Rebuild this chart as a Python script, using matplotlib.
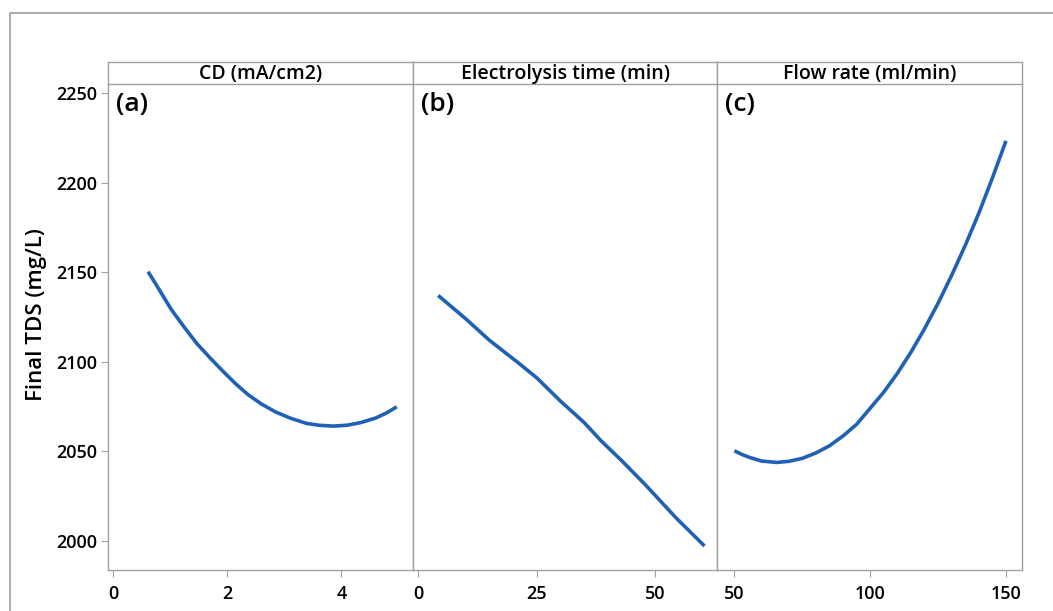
import matplotlib
matplotlib.use("Agg")
import matplotlib.pyplot as plt
from matplotlib.lines import Line2D

plt.rcParams['font.family'] = ['Open Sans', 'DejaVu Sans']

# Data
panel_titles = ['CD (mA/cm2)', 'Electrolysis time (min)', 'Flow rate (ml/min)']
panel_tags = ['(a)', '(b)', '(c)']

cd_x = [0.61, 0.8, 1.02, 1.25, 1.46, 1.7, 1.93, 2.15, 2.37, 2.6, 2.84, 3.1, 3.39,
        3.6, 3.86, 4.1, 4.33, 4.6, 4.8, 4.97]
cd_y = [2150.3, 2140.5, 2129.0, 2119.0, 2110.3, 2102.0, 2094.4, 2087.5, 2081.4,
        2076.3, 2072.0, 2068.5, 2065.5, 2064.5, 2064.0, 2064.5, 2065.9, 2068.5,
        2071.5, 2074.8]

time_x = [4.2, 10, 15, 20.8, 25, 30, 35, 38.5, 43, 48, 54.3, 60.4]
time_y = [2137, 2124, 2112, 2100, 2091, 2078, 2066, 2056, 2044.5, 2031, 2013, 1997]

flow_x = [50, 53, 56, 60, 65.5, 70, 75, 80, 85, 90, 95, 100, 105, 110, 115, 120,
          125, 130, 135, 140, 145, 150]
flow_y = [2050.2, 2048.0, 2046.3, 2044.5, 2043.7, 2044.3, 2046.0, 2049.0, 2053.0,
          2058.5, 2065.0, 2074.0, 2083.0, 2093.5, 2105.3, 2118.4, 2132.7, 2148.3,
          2165.0, 2183.0, 2202.7, 2223.4]

x_ticks = [[0, 2, 4], [0, 25, 50], [50, 100, 150]]
x_limits = [(-0.088, 5.26), (-1.05, 63.1), (43.7, 156.0)]
y_ticks = [2000, 2050, 2100, 2150, 2200, 2250]
y_limits = (1983.6, 2255.0)

series = [(cd_x, cd_y), (time_x, time_y), (flow_x, flow_y)]

W, H = 1053, 611
fig = plt.figure(figsize=(W / 100, H / 100), dpi=100)

gray = '#a0a0a0'
blue = '#1f62b5'

# panel edges in pixels
edges = [108.3, 413.3, 717.3, 1022.3]
plot_top, plot_bot = 84.3, 570.0
strip_top = 61.7

for i in range(3):
    x0, x1 = edges[i], edges[i + 1]
    ax = fig.add_axes([x0 / W, 1 - plot_bot / H, (x1 - x0) / W, (plot_bot - plot_top) / H])
    xs, ys = series[i]
    ax.plot(xs, ys, color=blue, lw=2.6, solid_capstyle='butt', solid_joinstyle='round')
    ax.set_xlim(*x_limits[i])
    ax.set_ylim(*y_limits)
    ax.set_xticks(x_ticks[i])
    for s in ax.spines.values():
        s.set_color(gray)
        s.set_linewidth(1.0)
    ax.spines['top'].set_visible(False)
    ax.tick_params(axis='x', direction='out', length=5, color=gray, labelsize=13, pad=6)
    if i == 0:
        ax.set_yticks(y_ticks)
        ax.tick_params(axis='y', direction='out', length=5, color=gray, labelsize=13, pad=3)
    else:
        ax.set_yticks([])
    for lab in ax.get_xticklabels() + ax.get_yticklabels():
        lab.set_fontweight('semibold')
    ax.text(0.025, 0.985, panel_tags[i], transform=ax.transAxes, ha='left', va='top',
            fontsize=19, fontweight='semibold')

    # strip header
    sx = fig.add_axes([x0 / W, 1 - plot_top / H, (x1 - x0) / W, (plot_top - strip_top) / H])
    sx.set_xticks([])
    sx.set_yticks([])
    for s in sx.spines.values():
        s.set_color(gray)
        s.set_linewidth(1.0)
    sx.text(0.5, 0.45, panel_titles[i], transform=sx.transAxes, ha='center', va='center',
            fontsize=14, fontweight='semibold')

fig.text(37 / W, 1 - 315 / H, 'Final TDS (mg/L)', rotation=90, ha='center', va='center',
         fontsize=16, fontweight='semibold')

# outer frame
fig.add_artist(Line2D([9.5 / W, 9.5 / W, 1.0], [0.0, 1 - 12.7 / H, 1 - 12.7 / H],
                      transform=fig.transFigure, color=gray, lw=1.2))

fig.savefig('out.png', dpi=100, facecolor='white')
